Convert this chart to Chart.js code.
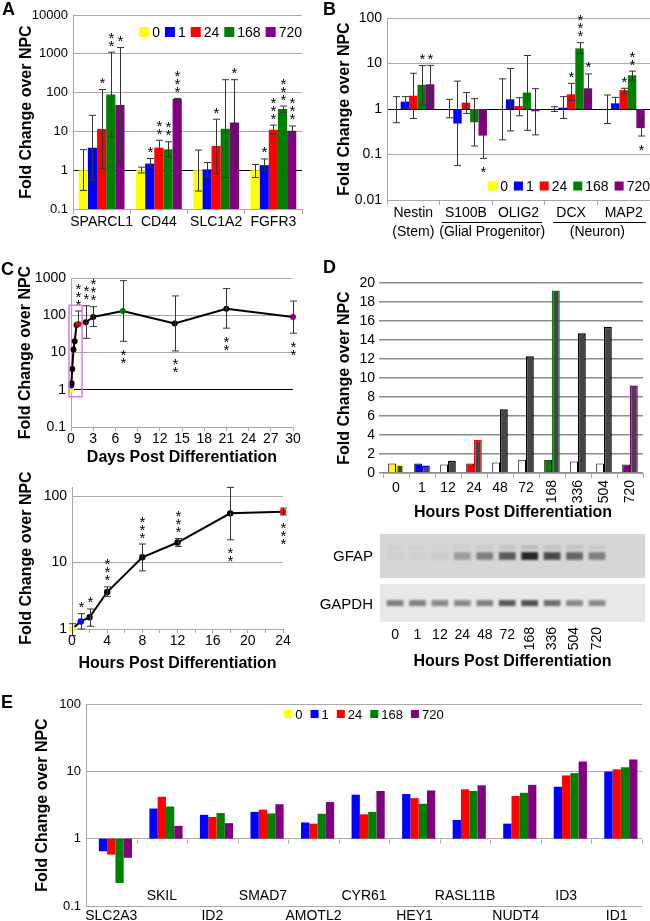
<!DOCTYPE html>
<html lang="en">
<head>
<meta charset="utf-8">
<title>Fold change over NPC during differentiation</title>
<script src="https://cdn.jsdelivr.net/npm/chart.js"></script>
<style>
  body { margin: 0; background: #fff; }
  #fig { position: relative; width: 650px; height: 921px; overflow: hidden; font-family: "Liberation Sans", Arial, sans-serif; }
  #fig canvas { position: absolute; }
  .panel { position: absolute; font-size: 18px; font-weight: bold; line-height: 18px; }
  .blot { position: absolute; width: 80px; text-align: right; font-size: 15px; line-height: 15px; }
</style>
</head>
<body>
<div id="fig">
  <canvas id="chartA" width="320" height="230" style="left:0;top:0"></canvas>
  <canvas id="chartB" width="330" height="240" style="left:320px;top:0"></canvas>
  <canvas id="chartDays" width="330" height="215" style="left:0;top:255px"></canvas>
  <canvas id="chartHours" width="330" height="205" style="left:0;top:470px"></canvas>
  <canvas id="chartD" width="330" height="270" style="left:320px;top:255px"></canvas>
  <canvas id="chartBlot" width="330" height="150" style="left:320px;top:525px"></canvas>
  <canvas id="chartE" width="650" height="241" style="left:0;top:680px"></canvas>
  <div class="panel" style="left:2px;top:0">A</div>
  <div class="panel" style="left:323px;top:0">B</div>
  <div class="panel" style="left:1px;top:260px">C</div>
  <div class="panel" style="left:323px;top:258px">D</div>
  <div class="panel" style="left:1px;top:693px">E</div>
  <div class="blot" style="left:293px;top:548px">GFAP</div>
  <div class="blot" style="left:293px;top:596px">GAPDH</div>
</div>
<script>
// hours post differentiation, shared by the legends
const times = ["0", "1", "24", "168", "720"]

// panel A: fold change, lower and upper error, stars (rows = times)
const aGenes = ["SPARCL1", "CD44", "SLC1A2", "FGFR3"]
const aMean = [[1, 1, 1, 1], [3.8, 1.48, 1.05, 1.35], [11.5, 3.8, 4.2, 11], [90, 3.45, 11.7, 38], [48, 69, 17, 10.4]]
const aLo = [[0.3, 0.85, 0.29, 0.65], [0.55, 1.2, 0.7, 1.0], [1.1, 2.4, 0.82, 8.5], [7.2, 2.2, 0.65, 31], [1.6, 64, 1.17, 8]]
const aHi = [[3.4, 1.2, 3.3, 1.4], [26, 2.0, 1.58, 1.95], [120, 5.9, 20.6, 14.5], [1100, 5.4, 215, 45], [1450, 71, 215, 13.8]]
const aStars = [[0, 0, 0, 0], [0, 1, 0, 1], [1, 2, 1, 3], [2, 2, 0, 3], [1, 3, 1, 3]]

// panel B
const bGenes = ["Nestin", "S100B", "OLIG2", "DCX", "MAP2"]
const bGroups = [["(Stem)", 0, 0], ["(Glial Progenitor)", 1, 2], ["(Neuron)", 3, 4]]
const bMean = [[1, 1, 1, 1, 1], [1.45, 0.48, 1.63, 1.07, 1.33], [1.96, 1.38, 1.16, 2.1, 2.6], [3.4, 0.51, 2.3, 21.5, 5.5], [3.5, 0.26, 0.89, 2.85, 0.38]]
const bLo = [[0.5, 0.64, 0.21, 0.88, 0.48], [1.0, 0.057, 0.33, 0.62, 1.0], [0.62, 0.8, 0.71, 1.55, 2.14], [1.22, 0.154, 0.34, 16.7, 4.3], [1.27, 0.082, 0.27, 1.58, 0.255]]
const bHi = [[1.87, 1.63, 4.6, 1.12, 2.03], [1.87, 4.1, 7.8, 1.87, 1.8], [6.1, 2.3, 1.77, 3.67, 2.85], [9, 1.69, 15, 28.7, 6.8], [9.1, 0.76, 2.8, 5.9, 0.62]]
const bStars = [[0, 0, 0, 0, 0], [0, 0, 0, 0, 0], [0, 0, 0, 1, 1], [1, 0, 0, 3, 2], [1, -1, 0, 1, -1]]

// panel C: time course (hours), top plot in days, bottom plot first 24 h
const cHours = [0, 1, 2, 4, 8, 12, 18, 24, 48, 72, 168, 336, 504, 720]
const cFold = [1, 1.3, 1.5, 3.6, 12, 20, 55, 58, 65, 90, 130, 60, 150, 90]
const cLoDays = [null, null, null, null, null, null, null, 52, 24, 50, 20, 11, 45, 33]
const cHiDays = [null, null, null, null, null, null, null, 130, 180, 170, 850, 330, 520, 240]
const cStarsDays = [0, 0, 0, 0, 0, 0, 0, 3, 2, 3, -2, -2, -2, -2]
const cLoHours = [0.8, 1.0, 1.1, 3.1, 7.5, 17.5, 22, 52]
const cHiHours = [1.2, 1.7, 2.0, 4.3, 19, 23, 135, 66]
const cStarsHours = [0, 1, 1, 3, 3, 3, -2, -3]
const cBox = [-0.27, 1.5, 0.65, 185]

// panel D: GFAP mRNA (first) and protein (second), blot band intensity
const dHours = ["0", "1", "12", "24", "48", "72", "168", "336", "504", "720"]
const dFirst = [1.0, 1.0, 0.9, 1.0, 1.1, 1.4, 1.4, 1.2, 1.0, 0.9]
const dSecond = [0.9, 0.8, 1.3, 3.5, 6.7, 12.3, 19.2, 14.7, 15.4, 9.2]
const gfapBand = [0.03, 0.03, 0.06, 0.3, 0.45, 0.65, 0.95, 0.75, 0.6, 0.45]
const gfapUpper = [0.03, 0.03, 0.03, 0.04, 0.06, 0.1, 0.15, 0.1, 0.1, 0.08]
const gapdhBand = [0.5, 0.5, 0.45, 0.45, 0.5, 0.7, 0.75, 0.6, 0.45, 0.45]

// panel E
const eGenes = ["SLC2A3", "SKIL", "ID2", "SMAD7", "AMOTL2", "CYR61", "HEY1", "RASL11B", "NUDT4", "ID3", "ID1"]
const eMean = [
	[1, 1, 1, 1, 1, 1, 1, 1, 1, 1, 1],
	[0.65, 2.8, 2.26, 2.5, 1.74, 4.5, 4.6, 1.9, 1.67, 5.9, 9.9],
	[0.58, 4.2, 2.1, 2.7, 1.67, 2.3, 4.0, 5.4, 4.3, 8.7, 10.7],
	[0.22, 3.0, 2.4, 2.37, 2.34, 2.5, 3.3, 5.1, 4.8, 9.4, 11.5],
	[0.52, 1.55, 1.7, 3.25, 3.5, 5.1, 5.2, 6.2, 6.3, 14, 15]
]

const FONT = '"Liberation Sans", Arial, sans-serif'
const GRID = "#a8a8a8"
const seriesColors = ["#ffff00", "#0000ff", "#ff0000", "#008000", "#800080"]

Chart.defaults.font.family = FONT
Chart.defaults.color = "#000"
Chart.defaults.animation = false
Chart.defaults.plugins.legend.display = false
Chart.defaults.plugins.tooltip.enabled = false

function tint(h, fallback) {
	const k = times.indexOf(String(h))
	return k < 0 ? fallback : seriesColors[k]
}

function foldTitle(pad) {
	return {display: true, text: "Fold Change over NPC", font: {size: 16, weight: "bold"}, padding: {top: pad, bottom: 0}}
}

function hoursTitle(text, pad) {
	return {display: true, text: text, font: {size: 16, weight: "bold"}, padding: {top: 0, bottom: pad}}
}

function logAxis(min, max, list, w, titlePad, size, blackOne) {
	return {
		type: "logarithmic", min: min, max: max,
		afterBuildTicks: s => { s.ticks = list.map(v => ({value: v})) },
		afterFit: s => { s.width = w },
		ticks: {callback: v => String(v), font: {size: size}, padding: 5, autoSkip: false},
		grid: {color: c => (blackOne && c.tick && c.tick.value === 1) ? "#000" : GRID, drawTicks: false},
		border: {color: GRID},
		title: foldTitle(titlePad)
	}
}

function catAxis(h, labels) {
	return {
		afterFit: s => { s.height = h },
		grid: {offset: true, drawOnChartArea: false, color: GRID, tickLength: 5},
		border: {color: GRID},
		ticks: {display: labels, font: {size: 14}, padding: 0, autoSkip: false, maxRotation: 0}
	}
}

// error bars and significance stars
const whiskers = {
	id: "whiskers",
	afterDatasetsDraw(chart) {
		const ctx = chart.ctx, ys = chart.scales.y
		ctx.save()
		ctx.strokeStyle = "#333"
		ctx.lineWidth = 1
		ctx.fillStyle = "#000"
		ctx.font = "15px " + FONT
		ctx.textAlign = "center"
		ctx.textBaseline = "alphabetic"
		chart.data.datasets.forEach((ds, d) => {
			chart.getDatasetMeta(d).data.forEach((el, i) => {
				const x = Math.round(el.x) + 0.5
				let top = el.y, bottom = el.y
				if (ds.lo && ds.lo[i] != null) {
					top = ys.getPixelForValue(ds.hi[i])
					bottom = ys.getPixelForValue(ds.lo[i])
					ctx.beginPath()
					ctx.moveTo(x, top); ctx.lineTo(x, bottom)
					ctx.moveTo(x - 3.5, top); ctx.lineTo(x + 3.5, top)
					ctx.moveTo(x - 3.5, bottom); ctx.lineTo(x + 3.5, bottom)
					ctx.stroke()
				}
				const n = ds.stars ? ds.stars[i] : 0
				for (let k = 0; k < Math.abs(n); k++) {
					const cy = n > 0 ? top - 10 - k * 8 : bottom + 10 + k * 8
					ctx.fillText("*", x, cy + 8.5)
				}
			})
		})
		ctx.restore()
	}
}

function legendAt(anchor, from, dy, size, box, gap) {
	return {
		id: "legendAt",
		afterDraw(chart) {
			const ctx = chart.ctx, a = chart.chartArea
			const sets = chart.data.datasets
			ctx.save()
			ctx.font = size + "px " + FONT
			const w = sets.map(ds => box + 3 + ctx.measureText(ds.label).width)
			const total = w.reduce((p, q) => p + q, 0) + gap * (w.length - 1)
			let x = anchor === "right" ? a.right - total : (a.left + a.right) / 2 - total / 2
			const y = from === "top" ? a.top + dy : a.bottom + dy
			ctx.textAlign = "left"
			ctx.textBaseline = "middle"
			sets.forEach((ds, i) => {
				ctx.fillStyle = ds.backgroundColor
				ctx.fillRect(x, y - box / 2, box, box)
				ctx.fillStyle = "#000"
				ctx.fillText(ds.label, x + box + 3, y + 1)
				x += w[i] + gap
			})
			ctx.restore()
		}
	}
}

function hourLabels(ctx, xs, y, flatOff, rotOff) {
	ctx.font = "14px " + FONT
	ctx.fillStyle = "#000"
	ctx.textBaseline = "middle"
	dHours.forEach((t, i) => {
		const x = xs.getPixelForValue(i)
		if (t.length < 3) {
			ctx.textAlign = "center"
			ctx.fillText(t, x, y + flatOff)
		} else {
			ctx.save()
			ctx.translate(x, y + rotOff)
			ctx.rotate(-Math.PI / 2)
			ctx.textAlign = "right"
			ctx.fillText(t, 0, 0)
			ctx.restore()
		}
	})
}

// A
new Chart(document.getElementById("chartA"), {
	type: "bar",
	data: {
		labels: aGenes,
		datasets: times.map((t, s) => ({label: t, data: aMean[s], lo: aLo[s], hi: aHi[s], stars: aStars[s], backgroundColor: seriesColors[s]}))
	},
	options: {
		responsive: false,
		datasets: {bar: {categoryPercentage: 0.8, barPercentage: 1}},
		layout: {padding: {top: 15, right: 18}},
		scales: {
			x: catAxis(21, true),
			y: logAxis(0.1, 10000, [0.1, 1, 10, 100, 1000, 10000], 73, 17.4, 13, true)
		}
	},
	plugins: [whiskers, legendAt("right", "top", 17, 14, 10, 5)]
})

// B
const bLabels = {
	id: "bLabels",
	afterDraw(chart) {
		const ctx = chart.ctx, xs = chart.scales.x, bottom = chart.chartArea.bottom
		ctx.save()
		ctx.font = "14px " + FONT
		ctx.fillStyle = "#000"
		ctx.strokeStyle = "#000"
		ctx.textAlign = "center"
		ctx.textBaseline = "middle"
		bGenes.forEach((g, i) => ctx.fillText(g, xs.getPixelForValue(i), bottom + 13))
		bGroups.forEach(([text, a, b]) => {
			const xa = xs.getPixelForValue(a), xb = xs.getPixelForValue(b)
			ctx.fillText(text, (xa + xb) / 2, bottom + 32)
			if (b > a) {
				const l = xa - ctx.measureText(bGenes[a]).width / 2 - 3
				const r = xb + ctx.measureText(bGenes[b]).width / 2 + 3
				ctx.beginPath()
				ctx.moveTo(l, bottom + 22.5); ctx.lineTo(r, bottom + 22.5)
				ctx.stroke()
			}
		})
		ctx.restore()
	}
}

new Chart(document.getElementById("chartB"), {
	type: "bar",
	data: {
		labels: bGenes,
		datasets: times.map((t, s) => ({label: t, data: bMean[s].map(v => [1, v]), lo: bLo[s], hi: bHi[s], stars: bStars[s], backgroundColor: seriesColors[s]}))
	},
	options: {
		responsive: false,
		datasets: {bar: {categoryPercentage: 0.8, barPercentage: 1}},
		layout: {padding: {top: 18}},
		scales: {
			x: catAxis(40, false),
			y: logAxis(0.01, 100, [0.01, 0.1, 1, 10, 100], 67, 15.4, 14, true)
		}
	},
	plugins: [whiskers, bLabels, legendAt("right", "bottom", -14, 14, 9, 6)]
})

// C, days
const zoomBox = {
	id: "zoomBox",
	afterDatasetsDraw(chart) {
		const ctx = chart.ctx, xs = chart.scales.x, ys = chart.scales.y
		const x0 = xs.getPixelForValue(cBox[0]), x1 = xs.getPixelForValue(cBox[1])
		const y0 = ys.getPixelForValue(cBox[2]), y1 = ys.getPixelForValue(cBox[3])
		ctx.save()
		ctx.strokeStyle = "#e07be0"
		ctx.lineWidth = 1.5
		ctx.strokeRect(x0, y1, x1 - x0, y0 - y1)
		ctx.restore()
	}
}

const dayColors = cHours.map(h => tint(h, "#000"))
new Chart(document.getElementById("chartDays"), {
	type: "line",
	data: {
		datasets: [{
			data: cHours.map((h, i) => ({x: h / 24, y: cFold[i]})),
			lo: cLoDays, hi: cHiDays, stars: cStarsDays,
			borderColor: "#000", borderWidth: 2, clip: false,
			pointRadius: 3, pointBorderWidth: 0, pointBackgroundColor: dayColors, pointBorderColor: dayColors
		}]
	},
	options: {
		responsive: false,
		layout: {padding: {top: 23, right: 37}},
		scales: {
			x: {
				type: "linear", min: 0, max: 30,
				afterFit: s => { s.height = 43 },
				ticks: {stepSize: 3, font: {size: 14}, padding: 0, autoSkip: false, maxRotation: 0},
				grid: {drawOnChartArea: false, color: GRID, tickLength: 4},
				border: {color: GRID},
				title: hoursTitle("Days Post Differentiation", 2.4)
			},
			y: logAxis(0.1, 1000, [0.1, 1, 10, 100, 1000], 71, 16.4, 14, true)
		}
	},
	plugins: [whiskers, zoomBox]
})

// C, hours
const early = cHours.slice(0, 8)
const hourColors = early.map(h => tint(h, "#000"))
new Chart(document.getElementById("chartHours"), {
	type: "line",
	data: {
		datasets: [{
			data: early.map((h, i) => ({x: h, y: cFold[i]})),
			lo: cLoHours, hi: cHiHours, stars: cStarsHours,
			borderColor: "#000", borderWidth: 2, clip: false,
			pointRadius: 3.2, pointBorderWidth: 0, pointBackgroundColor: hourColors, pointBorderColor: hourColors
		}]
	},
	options: {
		responsive: false,
		layout: {padding: {top: 17, right: 47}},
		scales: {
			x: {
				type: "linear", min: 0, max: 24,
				afterFit: s => { s.height = 46 },
				ticks: {stepSize: 2, callback: v => v % 4 ? "" : String(v), font: {size: 14}, padding: 0, autoSkip: false, maxRotation: 0},
				grid: {drawOnChartArea: false, color: GRID, tickLength: 4},
				border: {color: GRID},
				title: hoursTitle("Hours Post Differentiation", 1.4)
			},
			y: logAxis(1, 137, [1, 10, 100], 72, 17.4, 14, false)
		}
	},
	plugins: [whiskers]
})

// D, bars
const dLabels = {
	id: "dLabels",
	afterDraw(chart) {
		const ctx = chart.ctx
		ctx.save()
		hourLabels(ctx, chart.scales.x, chart.chartArea.bottom, 15, 7)
		ctx.restore()
	}
}

new Chart(document.getElementById("chartD"), {
	type: "bar",
	data: {
		labels: dHours,
		datasets: [
			{data: dFirst, backgroundColor: dHours.map(h => tint(h, "#ffffff")), borderColor: "#000", borderWidth: 1},
			{data: dSecond, backgroundColor: "#444444", borderColor: dHours.map(h => tint(h, "#000000")), borderWidth: 1.5}
		]
	},
	options: {
		responsive: false,
		datasets: {bar: {categoryPercentage: 0.6, barPercentage: 1}},
		layout: {padding: {top: 28, right: 7}},
		scales: {
			x: Object.assign(catAxis(52, false), {title: hoursTitle("Hours Post Differentiation", 2.4)}),
			y: {
				min: 0, max: 20,
				afterFit: s => { s.width = 63 },
				ticks: {stepSize: 2, font: {size: 14}, padding: 4, autoSkip: false},
				grid: {color: "#8c8c8c", lineWidth: 1.5, tickLength: 4},
				border: {display: false},
				title: foldTitle(15.4)
			}
		}
	},
	plugins: [dLabels]
})

// D, western blot
const blotRows = {gfap: [1.42, 1.58], upper: [1.66, 1.74], gapdh: [0.37, 0.49]}
const blotBg = {
	id: "blotBg",
	beforeDatasetsDraw(chart) {
		const ctx = chart.ctx, a = chart.chartArea, ys = chart.scales.y
		ctx.save()
		ctx.fillStyle = "#d6d6d6"
		ctx.fillRect(a.left, ys.getPixelForValue(2), a.right - a.left, ys.getPixelForValue(1) - ys.getPixelForValue(2))
		ctx.fillStyle = "#e8e8e8"
		ctx.fillRect(a.left, ys.getPixelForValue(0.864), a.right - a.left, ys.getPixelForValue(0) - ys.getPixelForValue(0.864))
		ctx.filter = "blur(1.2px)"
	},
	afterDatasetsDraw(chart) {
		chart.ctx.restore()
	},
	afterDraw(chart) {
		const ctx = chart.ctx, a = chart.chartArea
		ctx.save()
		hourLabels(ctx, chart.scales.x, a.bottom, 13, 5)
		ctx.font = "bold 16px " + FONT
		ctx.textAlign = "center"
		ctx.fillText("Hours Post Differentiation", (a.left + a.right) / 2, 137)
		ctx.restore()
	}
}

function bands(levels, row) {
	return {
		data: levels.map((v, i) => ({x: i, y: row})),
		backgroundColor: levels.map(v => "rgba(25,25,25," + v + ")"),
		barThickness: 16, grouped: false
	}
}

new Chart(document.getElementById("chartBlot"), {
	type: "bar",
	data: {datasets: [bands(gfapUpper, blotRows.upper), bands(gfapBand, blotRows.gfap), bands(gapdhBand, blotRows.gapdh)]},
	options: {
		responsive: false,
		layout: {padding: {left: 60, right: 5, top: 9, bottom: 53}},
		scales: {
			x: {type: "linear", min: -0.67, max: 11.14, offset: false, display: false},
			y: {min: 0, max: 2, display: false}
		}
	},
	plugins: [blotBg]
})

// E
const eLabels = {
	id: "eLabels",
	afterDraw(chart) {
		const ctx = chart.ctx, xs = chart.scales.x, ys = chart.scales.y, a = chart.chartArea
		const y1 = Math.round(ys.getPixelForValue(1)) + 0.5
		ctx.save()
		ctx.strokeStyle = GRID
		ctx.beginPath()
		for (let i = 0; i <= eGenes.length; i++) {
			const x = Math.round(xs.getPixelForValue(i - 0.5)) + 0.5
			ctx.moveTo(x, y1); ctx.lineTo(x, y1 + 4)
		}
		ctx.stroke()
		ctx.font = "14px " + FONT
		ctx.fillStyle = "#000"
		ctx.textAlign = "center"
		ctx.textBaseline = "middle"
		eGenes.forEach((g, i) => ctx.fillText(g, xs.getPixelForValue(i), i % 2 ? a.bottom - 10 : a.bottom + 10))
		ctx.restore()
	}
}

new Chart(document.getElementById("chartE"), {
	type: "bar",
	data: {
		labels: eGenes,
		datasets: times.map((t, s) => ({label: t, data: eMean[s].map(v => [1, v]), backgroundColor: seriesColors[s]}))
	},
	options: {
		responsive: false,
		datasets: {bar: {categoryPercentage: 0.82, barPercentage: 1}},
		layout: {padding: {top: 24, right: 8, bottom: 15}},
		scales: {
			x: {display: false},
			y: logAxis(0.1, 100, [0.1, 1, 10, 100], 86, 33.4, 13, false)
		}
	},
	plugins: [eLabels, legendAt("center", "top", 10, 13, 8, 8)]
})
</script>
</body>
</html>
